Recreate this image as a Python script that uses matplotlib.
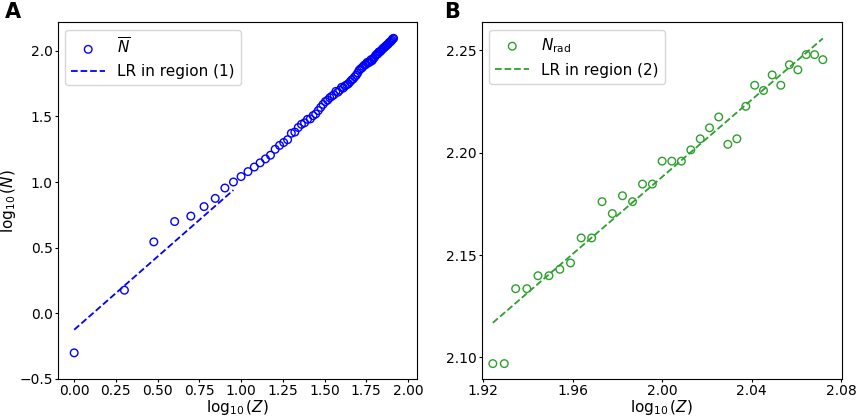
import numpy as np
import matplotlib
matplotlib.use("Agg")
import matplotlib.pyplot as plt

# Panel A: mean neutron number per element, Z = 1..82
z_a = np.arange(1, 83)
n_mean = [
    0.5, 1.5, 3.5, 5.0, 5.5, 6.5, 7.5, 9.0, 10.0, 11.0,
    12.0, 13.0, 14.0, 15.0, 16.0, 17.75, 19.0, 20.0, 21.0, 23.5,
    24.0, 26.0, 27.5, 28.25, 30.0, 30.25, 32.0, 33.0, 35.0, 37.0,
    39.0, 41.0, 42.0, 43.83, 45.0, 46.17, 49.0, 48.25, 50.0, 52.6,
    52.0, 54.0, 55.0, 56.0, 58.0, 59.83, 61.0, 63.25, 65.0, 67.7,
    71.0, 72.75, 74.0, 76.0, 78.0, 78.57, 81.5, 81.0, 82.0, 85.43,
    84.0, 87.14, 89.0, 92.0, 94.0, 94.57, 98.0, 98.17, 100.0, 102.0,
    104.5, 105.33, 107.5, 109.0, 111.0, 112.0, 115.0, 116.17, 118.0, 120.0,
    123.0, 124.25,
]
# linear regression in region (1)
lr1_slope, lr1_icpt = 1.115, -0.125
lr1_zmax = 9

# Panel B: neutron number, Z = 84..118
z_b = np.arange(84, 119)
n_rad = [
    125, 125, 136, 136, 138, 138, 139, 140, 144, 144,
    150, 148, 151, 150, 153, 153, 157, 157, 157, 159,
    161, 163, 165, 160, 161, 167, 171, 170, 173, 171,
    175, 174, 177, 177, 176,
]
lr2_slope, lr2_icpt = 0.942, 0.3042

plt.rcParams["font.family"] = "DejaVu Sans"

fig = plt.figure(figsize=(8.58, 4.16), dpi=100)
ax1 = fig.add_axes([0.0672, 0.089, 0.4188, 0.857])
ax2 = fig.add_axes([0.5614, 0.089, 0.4196, 0.857])

# --- A
xa = np.log10(z_a)
ya = np.log10(n_mean)
ax1.scatter(xa, ya, s=30, facecolors="none", edgecolors="blue",
            linewidths=1.0, label=r"$\overline{N}$", zorder=3)
xl1 = np.log10(np.array([1, lr1_zmax]))
ax1.plot(xl1, lr1_slope * xl1 + lr1_icpt, "--", color="blue", lw=1.3,
         label="LR in region (1)")
ax1.set_xlim(-0.099, 2.054)
ax1.set_ylim(-0.5, 2.215)
ax1.set_xticks([0.0, 0.25, 0.5, 0.75, 1.0, 1.25, 1.5, 1.75, 2.0])
ax1.set_yticks([-0.5, 0.0, 0.5, 1.0, 1.5, 2.0])
ax1.xaxis.set_major_formatter(matplotlib.ticker.FormatStrFormatter("%.2f"))
ax1.set_xlabel(r"$\log_{10}(Z)$", fontsize=11, labelpad=0)
ax1.set_ylabel(r"$\log_{10}(N)$", fontsize=11, labelpad=1)
ax1.legend(loc="upper left", fontsize=11, handlelength=2.2)

# --- B
xb = np.log10(z_b)
yb = np.log10(n_rad)
ax2.scatter(xb, yb, s=30, facecolors="none", edgecolors="tab:green",
            linewidths=1.0, label=r"$N_{\mathrm{rad}}$", zorder=3)
xl2 = np.array([xb[0], xb[-1]])
ax2.plot(xl2, lr2_slope * xl2 + lr2_icpt, "--", color="tab:green", lw=1.3,
         label="LR in region (2)")
ax2.set_xlim(1.9193, 2.0803)
ax2.set_ylim(2.0894, 2.2637)
ax2.set_xticks([1.92, 1.96, 2.00, 2.04, 2.08])
ax2.set_yticks([2.10, 2.15, 2.20, 2.25])
ax2.xaxis.set_major_formatter(matplotlib.ticker.FormatStrFormatter("%.2f"))
ax2.yaxis.set_major_formatter(matplotlib.ticker.FormatStrFormatter("%.2f"))
ax2.set_xlabel(r"$\log_{10}(Z)$", fontsize=11, labelpad=0)
ax2.legend(loc="upper left", fontsize=11, handlelength=2.2)

for ax in (ax1, ax2):
    ax.tick_params(labelsize=10, length=2, pad=1.5)

fig.text(0.006, 0.97, "A", fontsize=15, fontweight="bold", va="center")
fig.text(0.518, 0.97, "B", fontsize=15, fontweight="bold", va="center")

fig.savefig("out.png", dpi=100)
